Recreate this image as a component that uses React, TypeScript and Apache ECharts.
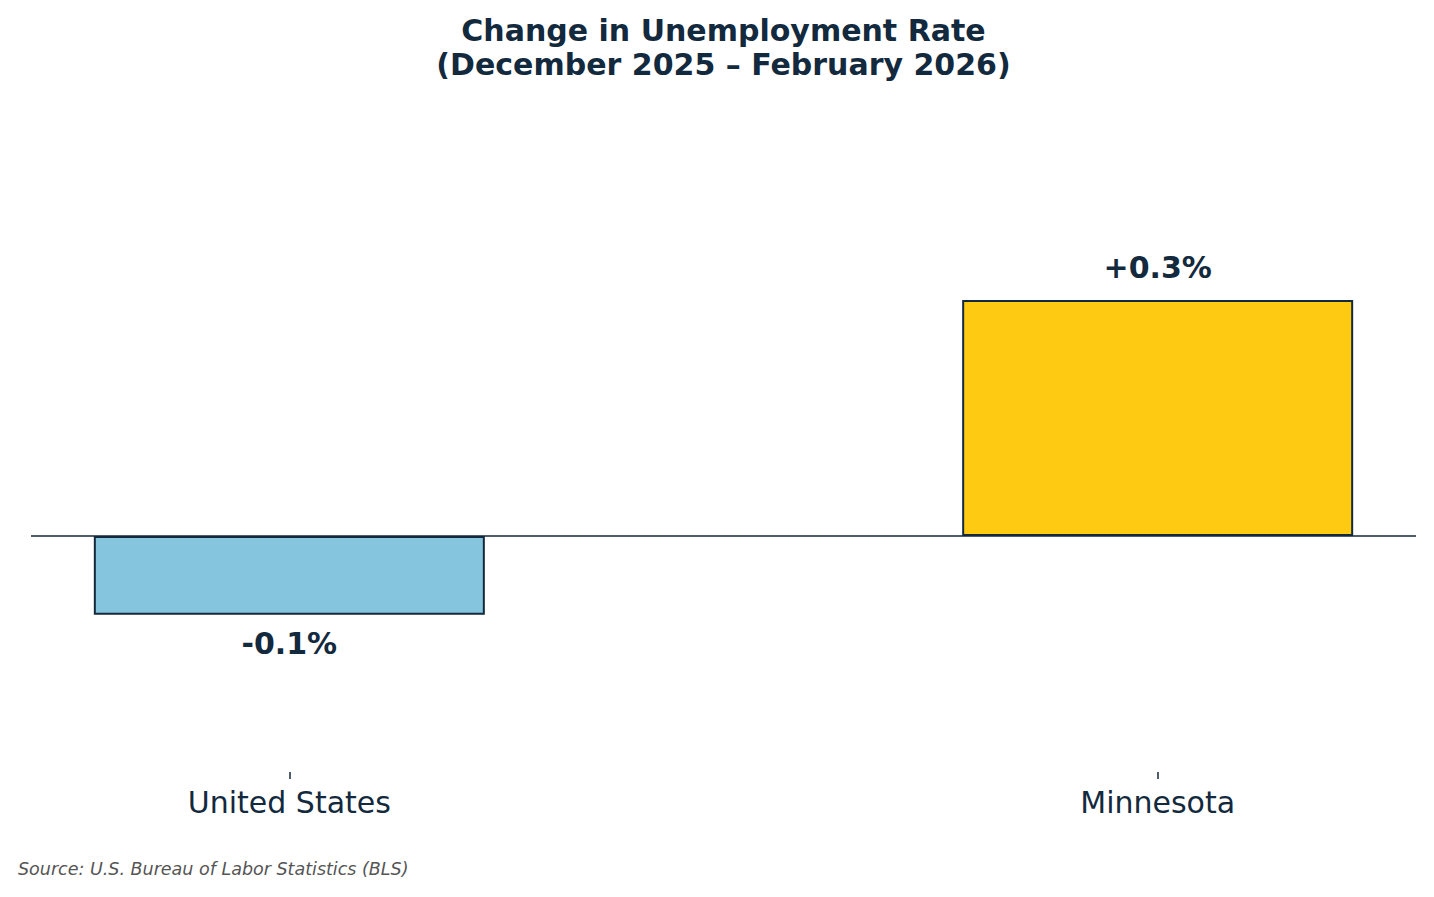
import React, { useEffect, useRef } from "react";
import * as echarts from "echarts";

const categories = ["United States", "Minnesota"];
const values = [-0.1, 0.3];
const valueLabels = ["-0.1%", "+0.3%"];
const barColors = ["#86C5DE", "#FECB12"];
const titleText = "Change in Unemployment Rate\n(December 2025 \u2013 February 2026)";
const sourceText = "Source: U.S. Bureau of Labor Statistics (BLS)";

const NAVY = "#13293D";
const FONT = "DejaVu Sans";

export default function App() {
  const ref = useRef<HTMLDivElement>(null);
  useEffect(() => {
    if (!ref.current) return;
    const chart = echarts.init(ref.current, null, { renderer: "svg" });
    chart.setOption({
      animation: false,
      backgroundColor: "#ffffff",
      title: {
        text: titleText,
        left: 718.5,
        top: 8,
        textAlign: "center",
        textStyle: {
          fontFamily: FONT,
          fontSize: 30,
          fontWeight: "bold",
          color: NAVY,
          lineHeight: 34,
        },
      },
      grid: { left: 31, right: 18, top: 142.7, bottom: 125, containLabel: false },
      xAxis: {
        type: "value",
        min: -0.2975,
        max: 1.2975,
        axisLine: { show: false, onZero: false },
        splitLine: { show: false },
        axisTick: {
          show: true,
          customValues: [0, 1],
          length: 7,
          lineStyle: { color: NAVY, width: 1.5 },
        },
        axisLabel: {
          show: true,
          customValues: [0, 1],
          formatter: (v: number) => categories[Math.round(v)] ?? "",
          fontFamily: FONT,
          fontSize: 30,
          color: NAVY,
          margin: 15,
        },
      },
      yAxis: {
        type: "value",
        min: -0.3,
        max: 0.5,
        show: false,
        splitLine: { show: false },
      },
      series: [
        {
          type: "bar",
          barWidth: 391,
          data: values.map((v, i) => ({
            value: [i, v],
            itemStyle: { color: barColors[i], borderColor: NAVY, borderWidth: 2 },
            label: {
              show: true,
              position: v >= 0 ? "top" : "bottom",
              distance: v >= 0 ? 18 : 14,
              formatter: valueLabels[i],
              fontFamily: FONT,
              fontSize: 30,
              fontWeight: "bold",
              color: NAVY,
            },
          })),
          markLine: {
            silent: true,
            symbol: "none",
            label: { show: false },
            lineStyle: { color: NAVY, width: 1.5, type: "solid" },
            data: [{ yAxis: 0 }],
          },
        },
      ],
      graphic: [
        {
          type: "text",
          left: 18,
          top: 860,
          style: {
            text: sourceText,
            fontFamily: FONT,
            fontSize: 17.5,
            fontStyle: "italic",
            fill: "#555555",
          },
        },
      ],
    });
    return () => chart.dispose();
  }, []);
  return (
    <div
      ref={ref}
      style={{ position: "fixed", left: 0, top: 0, width: 1434, height: 897 }}
    />
  );
}
